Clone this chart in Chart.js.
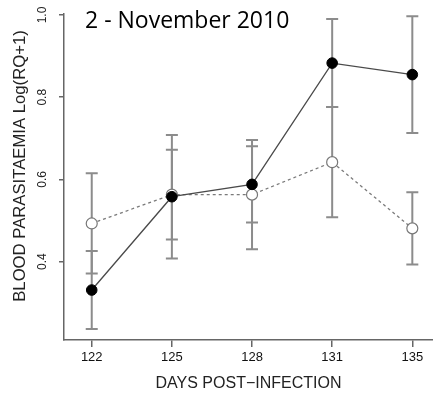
<!DOCTYPE html>
<html>
<head>
<meta charset="utf-8">
<script src="https://cdn.jsdelivr.net/npm/chart.js@4.4.1/dist/chart.umd.min.js"></script>
<style>
  html, body { margin: 0; padding: 0; background: #fff; }
  #wrap { width: 433px; height: 396px; }
</style>
</head>
<body>
<div id="wrap"><canvas id="c" width="433" height="396"></canvas></div>
<script>
// Sampling days (post-infection)
const days = ['122', '125', '128', '131', '135'];
// Mean blood parasitaemia, log(RQ+1), filled-circle group (solid line)
const filledMean = [0.331, 0.558, 0.588, 0.883, 0.855];
const filledErr  = [0.095, 0.150, 0.093, 0.107, 0.142];
// Open-circle group (dotted line)
const openMean = [0.493, 0.563, 0.563, 0.642, 0.481];
const openErr  = [0.122, 0.109, 0.133, 0.134, 0.088];
// Y-axis tick values
const yTicks = [0.4, 0.6, 0.8, 1.0];

const titleText = '2 - November 2010';
const yTitle = 'BLOOD PARASITAEMIA Log(RQ+1)';
const xTitle = 'DAYS POST\u2212INFECTION';

const AXIS_GREY = '#666';
const BAR_GREY = '#8c8c8c';

// Vertical error bars with caps, drawn beneath the points
const errorBars = {
  id: 'errorBars',
  beforeDatasetsDraw(chart) {
    const ctx = chart.ctx;
    const y = chart.scales.y;
    const sets = [[filledMean, filledErr], [openMean, openErr]];
    ctx.save();
    ctx.strokeStyle = BAR_GREY;
    ctx.lineWidth = 2;
    sets.forEach(([mean, err], di) => {
      const meta = chart.getDatasetMeta(di);
      mean.forEach((m, i) => {
        const px = meta.data[i].x;
        const top = y.getPixelForValue(m + err[i]);
        const bot = y.getPixelForValue(m - err[i]);
        ctx.beginPath();
        ctx.moveTo(px, top); ctx.lineTo(px, bot);
        ctx.moveTo(px - 6, top); ctx.lineTo(px + 6, top);
        ctx.moveTo(px - 6, bot); ctx.lineTo(px + 6, bot);
        ctx.stroke();
      });
    });
    ctx.restore();
  }
};

// Rotated y tick labels, y-axis title and the panel heading
const textLayer = {
  id: 'textLayer',
  afterDraw(chart) {
    const ctx = chart.ctx;
    const y = chart.scales.y;
    ctx.save();
    ctx.fillStyle = '#222';
    ctx.font = '12px "Liberation Sans", Arial, sans-serif';
    ctx.textAlign = 'center';
    ctx.textBaseline = 'middle';
    y.ticks.forEach(t => {
      const py = y.getPixelForValue(t.value);
      ctx.save();
      ctx.translate(43, py);
      ctx.rotate(-Math.PI / 2);
      ctx.fillText(t.value.toFixed(1), 0, 0);
      ctx.restore();
    });
    ctx.font = '16.7px "Liberation Sans", Arial, sans-serif';
    ctx.save();
    ctx.translate(20, 166);
    ctx.rotate(-Math.PI / 2);
    ctx.fillText(yTitle, 0, 0);
    ctx.restore();

    ctx.fillStyle = '#000';
    ctx.font = '23px "Open Sans", sans-serif';
    ctx.textAlign = 'left';
    ctx.textBaseline = 'alphabetic';
    ctx.fillText(titleText, 85, 28);
    ctx.restore();
  }
};

new Chart(document.getElementById('c'), {
  type: 'line',
  data: {
    datasets: [
      {
        data: filledMean.map((v, i) => ({ x: i, y: v })),
        borderColor: '#4a4a4a',
        borderWidth: 1.3,
        pointRadius: 5.3,
        pointBackgroundColor: '#000',
        pointBorderColor: '#000',
        pointBorderWidth: 1,
        tension: 0
      },
      {
        data: openMean.map((v, i) => ({ x: i, y: v })),
        borderColor: '#7a7a7a',
        borderWidth: 1.3,
        borderDash: [3, 3],
        pointRadius: 5.5,
        pointBackgroundColor: '#fff',
        pointBorderColor: '#777',
        pointBorderWidth: 1.2,
        tension: 0
      }
    ]
  },
  options: {
    responsive: false,
    animation: false,
    devicePixelRatio: 1,
    layout: { autoPadding: false, padding: { top: 14, right: 0, left: 0, bottom: 0 } },
    plugins: { legend: { display: false }, tooltip: { enabled: false } },
    scales: {
      x: {
        type: 'linear',
        min: -0.346,
        max: 4.258,
        afterBuildTicks: s => { s.ticks = days.map((d, i) => ({ value: i })); },
        afterFit: s => { s.height = 56; },
        ticks: {
          callback: v => days[v],
          color: '#111',
          font: { family: '"Liberation Sans", Arial, sans-serif', size: 13 },
          padding: 3,
          maxRotation: 0,
          autoSkip: false
        },
        grid: { drawOnChartArea: false, drawTicks: true, tickLength: 7, color: AXIS_GREY, lineWidth: 1.5 },
        border: { display: true, color: AXIS_GREY, width: 1.5 },
        title: {
          display: true,
          text: xTitle,
          color: '#222',
          font: { family: '"Liberation Sans", Arial, sans-serif', size: 16 },
          padding: { top: 0, bottom: 3 }
        }
      },
      y: {
        type: 'linear',
        min: 0.2095,
        max: 1.0024,
        afterBuildTicks: s => { s.ticks = yTicks.map(v => ({ value: v })); },
        afterFit: s => { s.width = 64; },
        ticks: { display: false },
        grid: { drawOnChartArea: false, drawTicks: true, tickLength: 5, color: AXIS_GREY, lineWidth: 1.5 },
        border: { display: true, color: AXIS_GREY, width: 1.5 }
      }
    }
  },
  plugins: [errorBars, textLayer]
});
</script>
</body>
</html>
